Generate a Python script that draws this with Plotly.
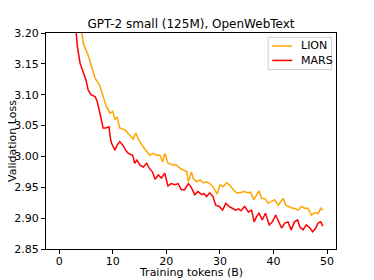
import plotly.graph_objects as go

# Training tokens (B) and validation loss
lion_x = [1.0, 2.0, 3.0, 3.6, 4.2, 4.5, 5.4, 6.0, 6.7, 7.5, 8.2, 8.8, 9.5, 10.0, 10.4, 10.8, 11.3,
          12.3, 12.9, 13.5, 13.8, 14.3, 14.8, 15.4, 16.3, 16.9, 17.5, 18.2, 18.8, 19.3, 19.7,
          20.3, 21.3, 21.9, 22.5, 23.1, 23.8, 24.1, 24.7, 25.0, 25.6, 26.3, 26.9, 27.5, 28.1,
          28.7, 29.5, 30.0, 30.6, 31.2, 31.8, 32.5, 33.1, 33.7, 34.6, 35.3, 35.7, 36.3, 36.8,
          37.3, 37.8, 38.4, 39.0, 39.6, 40.2, 40.9, 41.8, 42.3, 42.9, 43.5, 43.9, 44.6, 45.2,
          45.8, 46.4, 47.1, 47.7, 48.3, 48.8, 49.2]
lion_y = [3.70, 3.45, 3.30, 3.24, 3.199, 3.183, 3.164, 3.145, 3.127, 3.116, 3.097, 3.081, 3.070,
          3.073, 3.060, 3.064, 3.046, 3.043, 3.037, 3.031, 3.028, 3.038, 3.027, 3.019, 3.008,
          3.002, 3.005, 3.002, 3.002, 2.991, 3.005, 2.989, 2.986, 2.986, 2.981, 2.978, 2.975,
          2.959, 2.975, 2.965, 2.959, 2.962, 2.957, 2.959, 2.956, 2.951, 2.939, 2.954, 2.951,
          2.957, 2.954, 2.946, 2.941, 2.941, 2.943, 2.941, 2.942, 2.930, 2.938, 2.944, 2.932,
          2.932, 2.924, 2.927, 2.930, 2.921, 2.932, 2.921, 2.919, 2.916, 2.916, 2.913, 2.919,
          2.916, 2.916, 2.905, 2.909, 2.907, 2.916, 2.913]

mars_x = [1.0, 2.0, 2.7, 3.2, 3.4, 3.9, 4.5, 5.0, 5.4, 5.9, 6.7, 7.1, 7.6, 8.2, 8.7, 9.3, 9.6,
          9.8, 10.4, 10.8, 11.3, 11.9, 12.4, 12.9, 13.7, 14.1, 14.5, 15.1, 15.7, 16.3, 16.8,
          17.4, 17.9, 18.5, 19.1, 19.7, 20.3, 20.9, 21.6, 22.2, 22.8, 23.4, 24.1, 24.7, 25.3,
          25.9, 26.6, 27.0, 27.5, 28.1, 28.7, 29.2, 29.9, 30.5, 31.1, 31.7, 32.3, 32.9, 33.5,
          33.9, 34.6, 35.3, 35.9, 36.4, 36.8, 37.3, 37.9, 38.5, 39.2, 39.8, 40.4, 41.0, 41.5,
          42.1, 42.7, 43.3, 43.9, 44.5, 44.9, 45.5, 46.1, 46.8, 47.3, 47.9, 48.3, 48.8, 49.2]
mars_y = [3.60, 3.35, 3.25, 3.199, 3.178, 3.151, 3.135, 3.124, 3.108, 3.100, 3.097, 3.089, 3.070,
          3.046, 3.046, 3.048, 3.027, 3.021, 3.010, 3.018, 3.024, 3.018, 3.010, 3.005, 3.002,
          2.989, 2.994, 2.986, 2.983, 2.989, 2.981, 2.975, 2.963, 2.970, 2.965, 2.973, 2.952,
          2.956, 2.954, 2.956, 2.946, 2.946, 2.956, 2.949, 2.938, 2.943, 2.938, 2.940, 2.935,
          2.941, 2.935, 2.921, 2.919, 2.913, 2.924, 2.919, 2.916, 2.913, 2.915, 2.912, 2.919,
          2.910, 2.913, 2.894, 2.902, 2.908, 2.897, 2.908, 2.889, 2.894, 2.905, 2.894, 2.884,
          2.892, 2.894, 2.881, 2.894, 2.897, 2.886, 2.881, 2.889, 2.884, 2.878, 2.884, 2.892,
          2.894, 2.887]

series_names = ["LION", "MARS"]
series_colors = ["#FFA500", "#FF0000"]

x_ticks = [0, 10, 20, 30, 40, 50]
y_ticks = [2.85, 2.90, 2.95, 3.00, 3.05, 3.10, 3.15, 3.20]

title_text = "GPT-2 small (125M), OpenWebText"
x_label = "Training tokens (B)"
y_label = "Validation Loss"

font = dict(family="DejaVu Sans", size=11, color="black")

fig = go.Figure()
for name, xs, ys, col in zip(series_names, [lion_x, mars_x], [lion_y, mars_y], series_colors):
    fig.add_trace(go.Scatter(x=xs, y=ys, mode="lines", name=name,
                             line=dict(color=col, width=1.5), showlegend=False))

axis_common = dict(showline=True, linecolor="black", linewidth=1, mirror=True,
                   ticks="outside", ticklen=4, tickwidth=1, tickcolor="black",
                   showgrid=False, zeroline=False, tickfont=font, automargin=False)

# Compact matplotlib-style legend box (paper coordinates)
shapes = [dict(type="rect", xref="paper", yref="paper", x0=0.766, x1=0.985, y0=0.831, y1=0.980,
               line=dict(color="#d0d0d0", width=1), fillcolor="rgba(255,255,255,0.8)",
               layer="above")]
annotations = []
rows = [0.940, 0.873]
for name, col, ry in zip(series_names, series_colors, rows):
    shapes.append(dict(type="line", xref="paper", yref="paper", x0=0.780, x1=0.849,
                       y0=ry, y1=ry, line=dict(color=col, width=1.5), layer="above"))
    annotations.append(dict(text=name, xref="paper", yref="paper", x=0.874, y=ry,
                            xanchor="left", yanchor="middle", showarrow=False, font=font))

# Axis titles placed as text annotations
annotations.append(dict(text=x_label, xref="paper", yref="paper", x=0.5, y=-0.108,
                        xanchor="center", yanchor="middle", showarrow=False, font=font))
annotations.append(dict(text=y_label, xref="paper", yref="paper", x=-0.1172, y=0.5,
                        xanchor="center", yanchor="middle", showarrow=False,
                        textangle=-90, font=font))

# The page body adds an 8px margin, so the figure is sized to fit inside the window.
fig.update_layout(
    width=366, height=272,
    margin=dict(l=38, r=38, t=25, b=31),
    paper_bgcolor="white", plot_bgcolor="white",
    font=font,
    title=dict(text=title_text, x=0.5, xref="paper",
               y=1 - 16 / 272, yanchor="middle", xanchor="center",
               font=dict(family="DejaVu Sans", size=12, color="black")),
    xaxis=dict(range=[-2.46, 51.66], tickvals=x_ticks, ticklabelstandoff=-2,
               **axis_common),
    yaxis=dict(range=[2.85, 3.20], tickvals=y_ticks, tickformat=".2f",
               **axis_common),
    shapes=shapes,
    annotations=annotations,
    showlegend=False,
)

fig.write_html("out.html")
